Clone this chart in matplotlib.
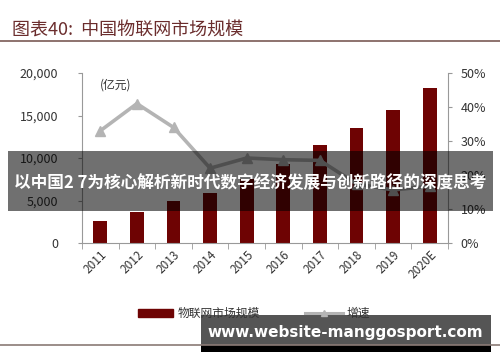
import matplotlib
matplotlib.use("Agg")
import matplotlib.pyplot as plt
from matplotlib.patches import Rectangle
from matplotlib.lines import Line2D
from matplotlib.ticker import FuncFormatter, MultipleLocator
import numpy as np

plt.rcParams['font.family'] = ['Noto Sans CJK SC', 'DejaVu Sans']

years = ["2011", "2012", "2013", "2014", "2015", "2016", "2017", "2018", "2019", "2020E"]
market = [2600, 3650, 4900, 5900, 7500, 9300, 11500, 13500, 15600, 18200]
growth = [33, 41, 34, 22, 25, 24.5, 24.3, 17.4, 15.6, 16.7]

title = "图表40:  中国物联网市场规模"
unit = "(亿元)"
legend_bar = "物联网市场规模"
legend_line = "增速"
overlay_text = "以中国2 7为核心解析新时代数字经济发展与创新路径的深度思考"
watermark = "www.website-manggosport.com"

fig = plt.figure(figsize=(5, 3.62), dpi=100)
fig.patch.set_facecolor("white")
ax = fig.add_axes([0.164, 0.3287, 0.732, 0.4696])
x = np.arange(len(years))
ax.bar(x, market, width=0.38, color="#6e0303", zorder=2)
ax.set_xlim(-0.5, len(years) - 0.5)
ax.set_ylim(0, 20000)
ax.yaxis.set_major_locator(MultipleLocator(5000))
ax.yaxis.set_major_formatter(FuncFormatter(lambda v, p: f"{int(v):,}"))
ax.set_xticks(x)
ax.set_xticklabels(years, rotation=45, ha="right", rotation_mode="anchor", fontsize=8.5, color="#333333")
ax.tick_params(axis="x", which="major", length=0, pad=4)
ax.set_xticks(np.arange(-0.5, len(years), 1), minor=True)
ax.tick_params(axis="x", which="minor", length=4, color="#999999", direction="out")
ax.tick_params(axis="y", length=3, color="#999999", labelsize=9, labelcolor="#333333", pad=14)
for s in ["top", "right"]:
    ax.spines[s].set_visible(False)
for s in ["left", "bottom"]:
    ax.spines[s].set_color("#999999")
ax.text(0.05, 0.97, unit, transform=ax.transAxes, fontsize=8.5, color="#333333", va="top")

ax2 = ax.twinx()
ax2.plot(x, growth, color="#b4b4b4", lw=2.6, marker="^", markersize=7, zorder=3)
ax2.set_ylim(0, 50)
ax2.yaxis.set_major_locator(MultipleLocator(10))
ax2.yaxis.set_major_formatter(FuncFormatter(lambda v, p: f"{int(v)}%"))
ax2.tick_params(axis="y", length=3, color="#999999", labelsize=9, labelcolor="#333333", pad=6)
for s in ["top", "left", "bottom"]:
    ax2.spines[s].set_visible(False)
ax2.spines["right"].set_color("#999999")

# title and rules
fig.text(0.024, 0.915, title, fontsize=13, color="#6b2d2d", style="italic", va="center")
fig.add_artist(Line2D([0, 1], [1 - 41 / 362, 1 - 41 / 362], color="#7a5a55", lw=1.2))
fig.add_artist(Line2D([0, 1], [1 - 345 / 362, 1 - 345 / 362], color="#8a7a75", lw=1.2))

# legend
lx0, ly = 138 / 500, 1 - 313 / 362
fig.add_artist(Rectangle((lx0, ly - 0.012), 35 / 500, 0.024, color="#6e0303"))
fig.text(178 / 500, ly, legend_bar, fontsize=8.5, color="#333333", va="center")
fig.add_artist(Line2D([305 / 500, 343 / 500], [ly, ly], color="#b4b4b4", lw=2.2))
fig.add_artist(Line2D([324 / 500], [ly], color="#b4b4b4", marker="^", markersize=5))
fig.text(347 / 500, ly, legend_line, fontsize=8.5, color="#333333", va="center")

# overlay band
fig.add_artist(Rectangle((8 / 500, 1 - 211 / 362), 485 / 500, 60 / 362, color="#000000", alpha=0.56, lw=0))
fig.text(250 / 500, 1 - 183 / 362, overlay_text, fontsize=12, color="white", weight="bold",
         ha="center", va="center")

# watermark box
fig.add_artist(Rectangle((201 / 500, 1 - 345 / 362), 290 / 500, 30 / 362, color="#555555", lw=0))
fig.add_artist(Rectangle((201 / 500, 1 - 352 / 362), 290 / 500, 7 / 362, color="#000000", lw=0))
fig.text(345 / 500, 1 - 333 / 362, watermark, fontsize=11, color="white", weight="bold",
         ha="center", va="center", family="DejaVu Sans")

fig.savefig("out.png", dpi=100)
